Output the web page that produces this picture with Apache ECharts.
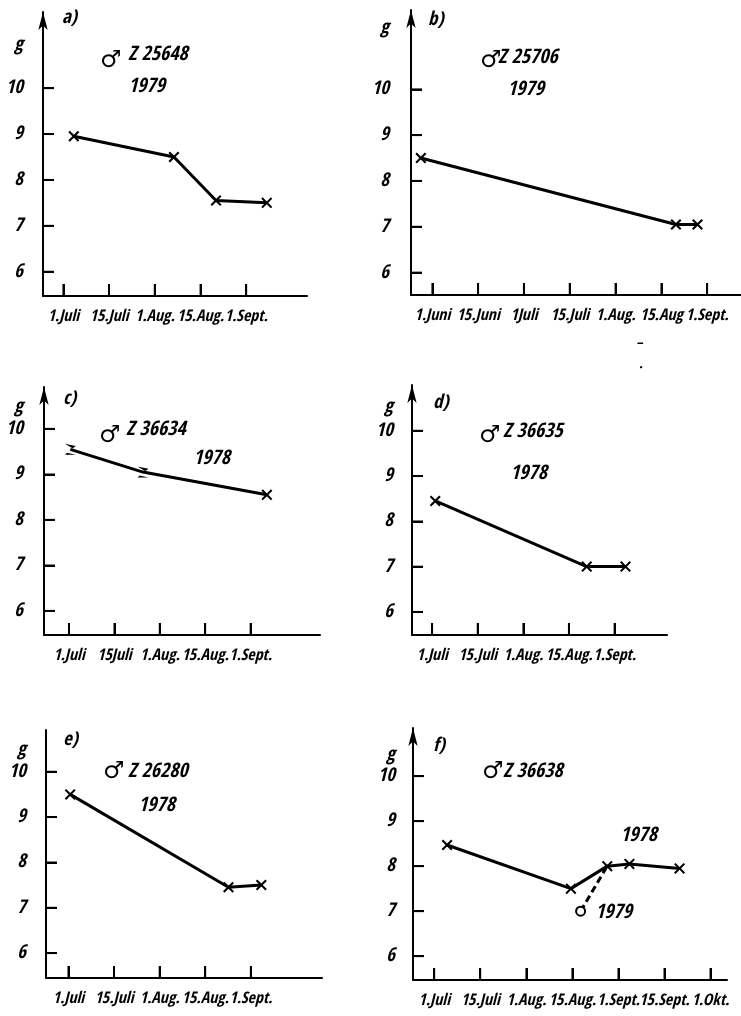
<!DOCTYPE html>
<html><head><meta charset="utf-8">
<script src="https://cdn.jsdelivr.net/npm/echarts@6/dist/echarts.min.js"></script>
<style>html,body{margin:0;padding:0;background:#fff}#c{width:741px;height:1016px}</style>
</head><body><div id="c"></div>
<script>
// ---- tick labels (half-month steps) ----
const ticksA = ['1.Juli','15.Juli','1.Aug.','15.Aug.','1.Sept.'];
const ticksB = ['1.Juni','15.Juni','1Juli','15.Juli','1.Aug.','15.Aug','1.Sept.'];
const ticksC = ['1.Juli','15Juli','1.Aug.','15.Aug.','1.Sept.'];
const ticksD = ['1.Juli','15.Juli','1.Aug.','15.Aug.','1.Sept.'];
const ticksE = ['1.Juli','15.Juli','1.Aug.','15.Aug.','1.Sept.'];
const ticksF = ['1.Juli','15.Juli','1.Aug.','15.Aug.','1.Sept.','15.Sept.','1.Okt.'];
const yTicks = [6, 7, 8, 9, 10];

// ---- data: [position in half-month steps from first tick, weight g] ----
const dataA = [[0.23, 8.95], [2.42, 8.5], [3.34, 7.55], [4.45, 7.5]];
const dataB = [[-0.25, 8.5], [5.32, 7.05], [5.79, 7.05]];
const dataC = [[0.03, 9.55], [1.63, 9.05], [4.36, 8.55]];
const dataD = [[0.07, 8.45], [3.39, 7.0], [4.24, 7.0]];
const dataE = [[0.04, 9.5], [3.51, 7.45], [4.23, 7.5]];
const dataF78 = [[0.28, 8.47], [2.97, 7.5], [3.76, 8.0], [4.24, 8.05], [5.33, 7.95]];
const dataF79 = [[3.18, 7.0], [3.74, 7.97]];

// ---- texts ----
const panelLetters = ['a)', 'b)', 'c)', 'd)', 'e)', 'f)'];
const birdIds = ['Z 25648', 'Z 25706', 'Z 36634', 'Z 36635', 'Z 26280', 'Z 36638'];
const years = ['1979', '1979', '1978', '1978', '1978', '1978'];

const FONT = "'Open Sans Condensed','Roboto Condensed','DejaVu Sans Condensed',sans-serif";
const XSYM = 'path://M0,1.6 L1.6,0 L6,4.4 L10.4,0 L12,1.6 L7.6,6 L12,10.4 L10.4,12 L6,7.6 L1.6,12 L0,10.4 L4.4,6 Z';
const HOUR = 'path://M0,0 L10,2 L2,8 L10,10 L0,10 L7,4 Z';

// layout of panels
const panels = [
  {ticks: ticksA, left: 43,  top: 12,  w: 264, h: 284, xmin: -0.444, xmax: 5.33, ymin: 5.47, ymax: 11.66, g: 10.95, ym: 20, arrow: true},
  {ticks: ticksB, left: 411, top: 10,  w: 330, h: 285, xmin: -0.465, xmax: 6.74, ymin: 5.51, ymax: 11.73, g: 11.34, ym: 22, arrow: true},
  {ticks: ticksC, left: 44,  top: 387, w: 276, h: 248, xmin: -0.55,  xmax: 5.53, ymin: 5.47, ymax: 10.92, g: 10.49, ym: 21, arrow: true},
  {ticks: ticksD, left: 412, top: 385, w: 255, h: 250, xmin: -0.44,  xmax: 5.15, ymin: 5.49, ymax: 11.01, g: 10.53, ym: 19, arrow: true},
  {ticks: ticksE, left: 46,  top: 730, w: 276, h: 248, xmin: -0.49,  xmax: 5.56, ymin: 5.45, ymax: 10.92, g: 10.48, ym: 20, arrow: false},
  {ticks: ticksF, left: 413, top: 728, w: 314, h: 252, xmin: -0.46,  xmax: 6.36, ymin: 5.47, ymax: 11.07, g: 10.47, ym: 18, arrow: true}
];

const labelFont = {color: '#000', fontFamily: FONT, fontStyle: 'italic', fontWeight: 'bold'};
const grid = [], xAxis = [], yAxis = [], series = [];

panels.forEach((p, i) => {
  grid.push({left: p.left, top: p.top, width: p.w, height: p.h, containLabel: false});
  const idx = p.ticks.map((_, k) => k);
  xAxis.push({
    type: 'value', gridIndex: i, min: p.xmin, max: p.xmax,
    splitLine: {show: false},
    axisLine: {show: true, onZero: false, lineStyle: {color: '#000', width: 2}},
    axisTick: {show: true, inside: true, length: 12, customValues: idx, lineStyle: {color: '#000', width: 2}},
    axisLabel: Object.assign({show: true, customValues: idx, margin: 13, hideOverlap: false,
      showMinLabel: true, showMaxLabel: true, fontSize: 16,
      formatter: v => p.ticks[Math.round(v)] || ''}, labelFont)
  });
  yAxis.push({
    type: 'value', gridIndex: i, min: p.ymin, max: p.ymax,
    splitLine: {show: false},
    axisLine: {show: true, onZero: false, lineStyle: {color: '#000', width: 2},
      symbol: p.arrow ? ['none', 'arrow'] : ['none', 'none'], symbolSize: [7, 18]},
    axisTick: {show: true, inside: true, length: 11, customValues: yTicks, lineStyle: {color: '#000', width: 2}},
    axisLabel: Object.assign({show: true, customValues: yTicks.concat([p.g]), margin: p.ym, fontSize: 19,
      formatter: v => (v > 10.2 ? 'g' : String(Math.round(v)))}, labelFont)
  });
  // tick marks as filled bars placed through the panel's own scales
  series.push({
    type: 'scatter', xAxisIndex: i, yAxisIndex: i, clip: false, silent: true, z: 4,
    data: idx.map(k => [k, p.ymin]), symbol: 'rect', symbolSize: [2, 12], symbolOffset: [0, -6],
    itemStyle: {color: '#000'}
  });
  series.push({
    type: 'scatter', xAxisIndex: i, yAxisIndex: i, clip: false, silent: true, z: 4,
    data: yTicks.map(v => [p.xmin, v]), symbol: 'rect', symbolSize: [11, 2], symbolOffset: [5.5, 0],
    itemStyle: {color: '#000'}
  });
});

function lineSeries(i, data, extra) {
  return Object.assign({
    type: 'line', xAxisIndex: i, yAxisIndex: i, data: data,
    symbol: XSYM, symbolSize: 11, showSymbol: true,
    lineStyle: {color: '#000', width: 3},
    itemStyle: {color: '#000'},
    animation: false, z: 3
  }, extra || {});
}

series.push(
  lineSeries(0, dataA),
  lineSeries(1, dataB),
  lineSeries(2, dataC, {symbol: (v, prm) => prm.dataIndex < 2 ? HOUR : XSYM}),
  lineSeries(3, dataD),
  lineSeries(4, dataE),
  lineSeries(5, dataF78),
  lineSeries(5, dataF79, {
    symbol: (v, prm) => prm.dataIndex === 0 ? 'emptyCircle' : 'none', symbolSize: 9,
    lineStyle: {color: '#000', width: 3, type: [7, 4]},
    itemStyle: {color: '#000', borderColor: '#000', borderWidth: 2}
  })
);

// annotation positions (px)
const ann = [
  {lx: 62,  ly: 18,  mx: 100, my: 61,  tx: 128, ty: 55,  yx: 128, yy: 87},
  {lx: 428, ly: 20,  mx: 480, my: 61,  tx: 498, ty: 58,  yx: 507, yy: 90},
  {lx: 63,  ly: 399, mx: 99,  my: 436, tx: 126, ty: 430, yx: 193, yy: 459},
  {lx: 433, ly: 403, mx: 479, my: 436, tx: 503, ty: 432, yx: 510, yy: 474},
  {lx: 63,  ly: 740, mx: 103, my: 772, tx: 128, ty: 772, yx: 138, yy: 806},
  {lx: 433, ly: 746, mx: 482, my: 772, tx: 503, ty: 772, yx: 620, yy: 836}
];
const T = (text, x, y, size, extra) => ({
  type: 'text', x: x, y: y, z: 10,
  style: Object.assign({text: text, fill: '#000', font: 'italic bold ' + size + 'px ' + FONT,
    align: 'left', verticalAlign: 'middle', textAlign: 'left', textVerticalAlign: 'middle'}, extra || {})
});
const graphic = [];
ann.forEach((a, i) => {
  graphic.push(T(panelLetters[i], a.lx, a.ly, 19));
  graphic.push({type: 'text', x: a.mx, y: a.my, z: 10,
    style: {text: '\u2642', fill: '#000', font: 'bold 24px "DejaVu Sans",sans-serif',
      align: 'left', verticalAlign: 'middle', textAlign: 'left', textVerticalAlign: 'middle'}});
  graphic.push(T(birdIds[i], a.tx, a.ty, 20));
  graphic.push(T(years[i], a.yx, a.yy, 20));
});
graphic.push(T('1979', 595, 913, 20));
graphic.push(T('\u2013', 636, 343, 14));
graphic.push(T('.', 639, 364, 14));

const chart = echarts.init(document.getElementById('c'), null, {renderer: 'canvas'});
chart.setOption({
  backgroundColor: '#fff',
  animation: false,
  grid: grid, xAxis: xAxis, yAxis: yAxis, series: series, graphic: graphic
});
</script></body></html>
